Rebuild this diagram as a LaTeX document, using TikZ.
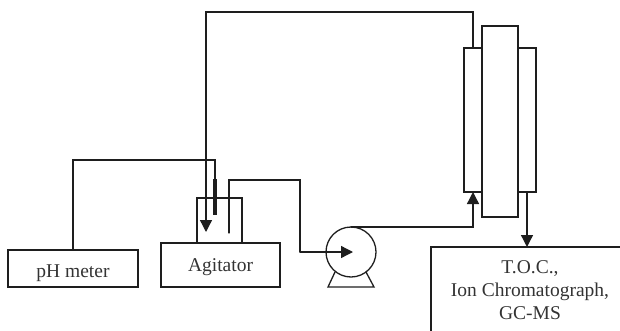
\documentclass[tikz,border=0pt]{standalone}
\usepackage{fontspec}
\setmainfont{Liberation Serif}
\usetikzlibrary{calc,arrows.meta}
\definecolor{linecol}{HTML}{1E1E1E}
\definecolor{textcol}{HTML}{333333}
\tikzset{
  box/.style={draw=linecol, line width=1.3pt, inner sep=0pt, outer sep=0pt, font=\fontsize{19.5}{23}\selectfont, text=textcol},
  pipe/.style={draw=linecol, line width=1.3pt},
  flow/.style={pipe, -{Triangle[length=12pt,width=12pt]}}
}

\begin{document}
\begin{tikzpicture}[x=1pt, y=1pt, line cap=round, line join=miter]
  \clip (0,0) rectangle (620,330);

  % Boxes (y counted from the bottom of the picture)
  \node[box, minimum width=130pt, minimum height=37pt] (phmeter) at (73,61.5) {\raisebox{-9pt}[0pt][0pt]{pH meter}};
  \node[box, minimum width=119pt, minimum height=44pt] (agitator) at (220.5,65) {\raisebox{-6pt}[0pt][0pt]{Agitator}};
  \node[box, minimum width=45pt, minimum height=45pt] (beaker) at (219.5,109.5) {};

  % Column with its two shells
  \node[box, minimum width=18pt, minimum height=144pt] (shellL) at (473,210) {};
  \node[box, minimum width=18pt, minimum height=144pt] (shellR) at (527,210) {};
  \node[box, fill=white, minimum width=36pt, minimum height=191pt] (column) at (500,208.5) {};

  % Analysis box runs off the picture
  \node[box, minimum width=260pt, minimum height=120pt] (analysis) at (561,23) {};
  \node[box, draw=none, align=center] (results) at (530,40) {T.O.C.,\\Ion Chromatograph,\\GC-MS};

  % Pump
  \node[box, circle, minimum size=50pt] (pump) at (351,78) {};
  \coordinate (footLt) at (335,58);
  \coordinate (footLb) at (328,43);
  \coordinate (footRb) at (374,43);
  \coordinate (footRt) at (366,58);
  \draw[pipe] (footLt) -- (footLb) -- (footRb) -- (footRt);

  % Corners and free ends
  \coordinate (feedtop) at (206,318);
  \coordinate (feedend) at (206,98);
  \coordinate (outtop) at (229,150);
  \coordinate (outend) at (229,97);
  \coordinate (outdrop) at (300,150);
  \coordinate (pumpin) at (353,78);
  \coordinate (probetop) at (215,170);
  \coordinate (probetip) at (215,151);
  \coordinate (probeend) at (215,115);

  % Lines
  \draw[flow] (shellL.north) -- (shellL.north |- feedtop) -- (feedtop) -- (feedend);
  \draw[pipe] (phmeter.north) |- (probetop) -- (probetip);
  \draw[pipe, line width=3.4pt, line cap=butt] (probetip) -- (probeend);
  \draw[pipe] (outend) -- (outtop) -- (outdrop) -- (outdrop |- pumpin);
  \draw[flow] (outdrop |- pumpin) -- (pumpin);
  \draw[flow] (pump.north) -- (pump.north -| shellL.south) -- (shellL.south);
  \draw[flow] (shellR.south) -- (shellR.south |- analysis.north);
\end{tikzpicture}
\end{document}
